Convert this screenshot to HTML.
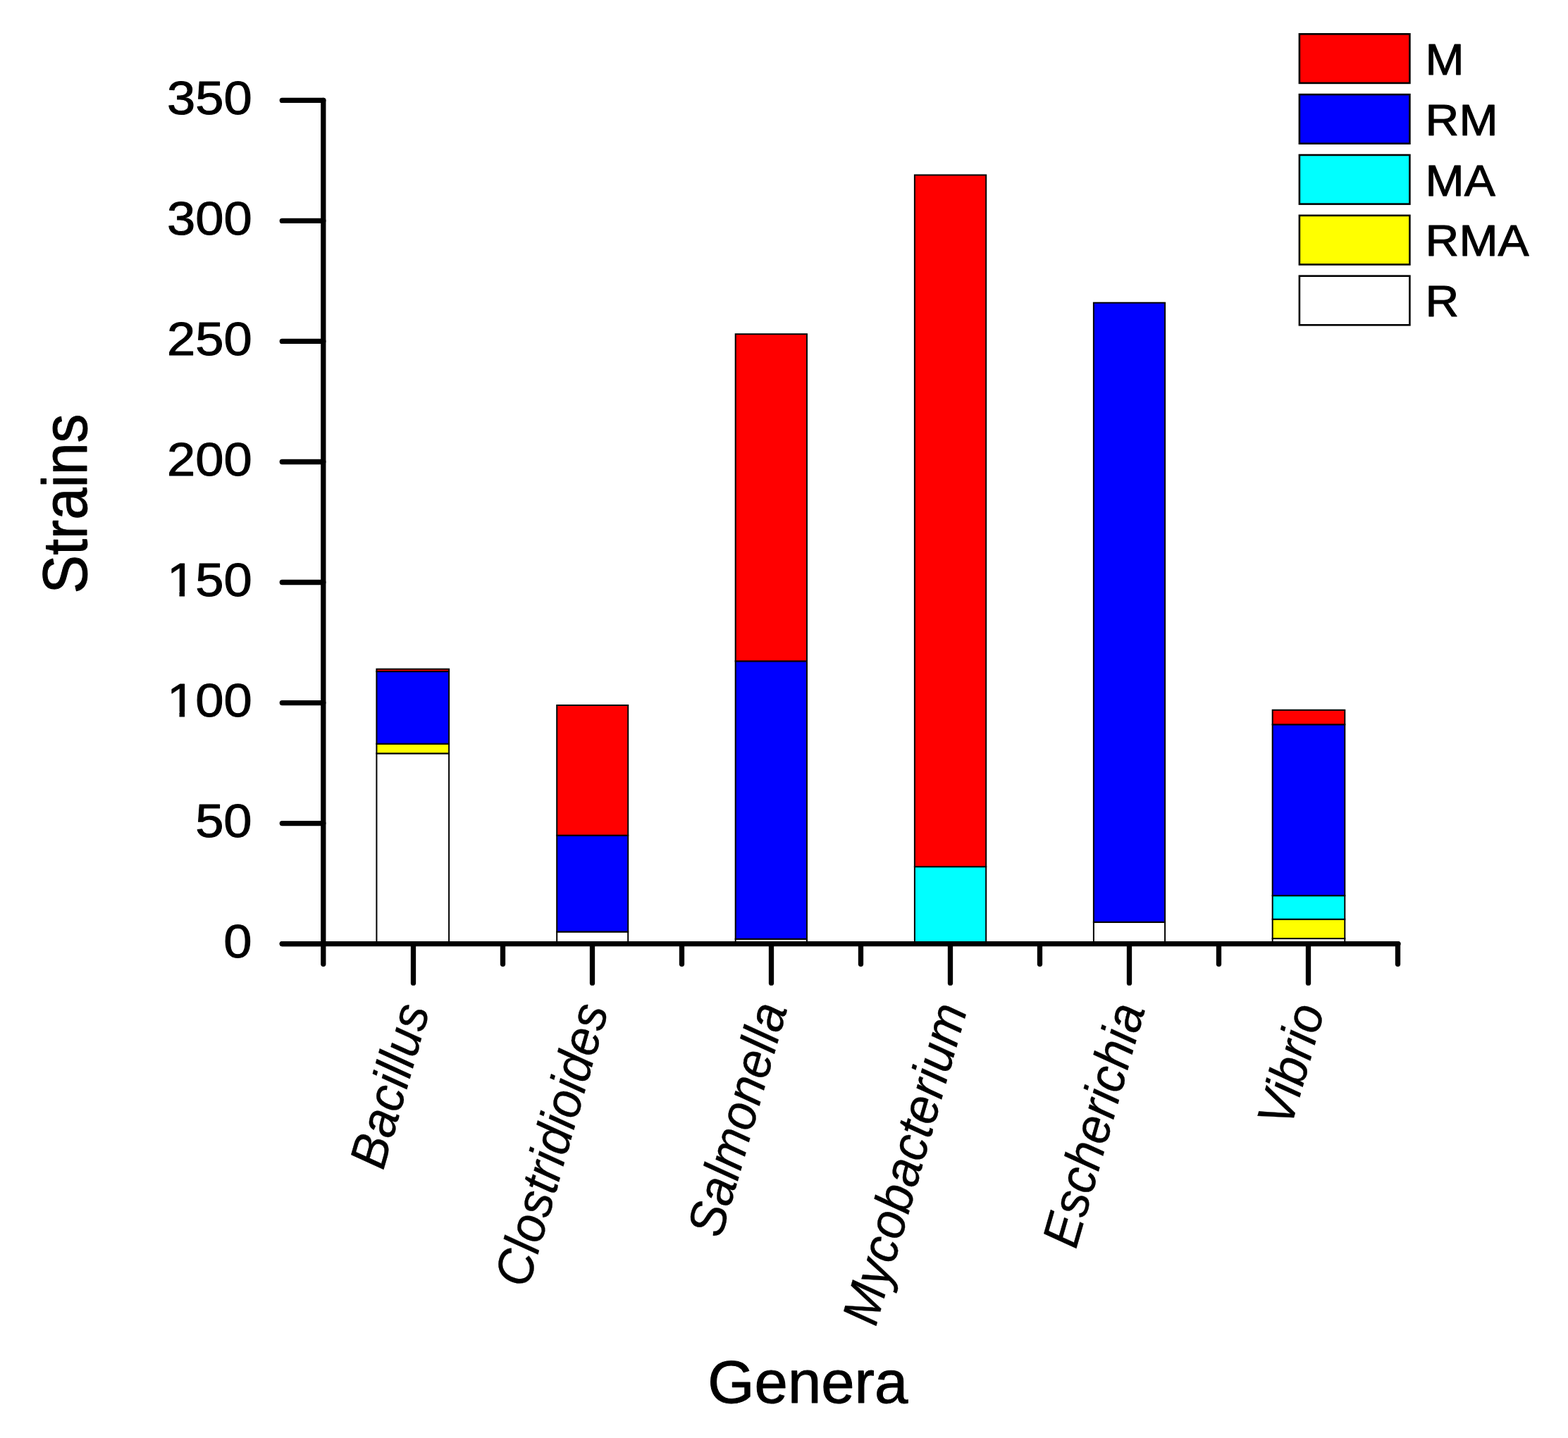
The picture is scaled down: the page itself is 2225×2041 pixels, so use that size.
<!DOCTYPE html>
<html lang="en"><head><meta charset="utf-8"><title>Strains per genus</title>
<style>
html,body{margin:0;padding:0;background:#fff;}
body{width:2225px;height:2041px;overflow:hidden;}
svg{display:block;}
text{font-family:"Liberation Sans",sans-serif;fill:#000;}
.bold text,text.bold{stroke:#000;stroke-width:1px;stroke-linejoin:round;}
.xlabels text{stroke:#000;stroke-width:0.5px;stroke-linejoin:round;}
.ax{stroke:#000;stroke-width:7.3;stroke-linecap:round;stroke-linejoin:round;fill:none;}
.bar{stroke:#000;stroke-width:2.0;stroke-linejoin:miter;}
.lg{stroke:#000;stroke-width:2.6;}
</style></head><body>
<svg width="2225" height="2041" viewBox="0 0 2225 2041" role="img" aria-label="Stacked bar chart of strains per genus">
<rect x="0" y="0" width="2225" height="2041" fill="#fff"/>
<g class="bars">
<rect class="bar" x="534.40" y="1069.37" width="102.70" height="270.23" fill="#ffffff"/>
<rect class="bar" x="534.40" y="1055.69" width="102.70" height="13.68" fill="#ffff00"/>
<rect class="bar" x="534.40" y="953.07" width="102.70" height="102.62" fill="#0000ff"/>
<rect class="bar" x="534.40" y="949.65" width="102.70" height="3.42" fill="#ff0000"/>
<rect class="bar" x="790.20" y="1322.50" width="101.00" height="17.10" fill="#ffffff"/>
<rect class="bar" x="790.20" y="1185.67" width="101.00" height="136.82" fill="#0000ff"/>
<rect class="bar" x="790.20" y="1000.96" width="101.00" height="184.71" fill="#ff0000"/>
<rect class="bar" x="1043.70" y="1332.76" width="101.30" height="6.84" fill="#ffffff"/>
<rect class="bar" x="1043.70" y="938.36" width="101.30" height="394.40" fill="#0000ff"/>
<rect class="bar" x="1043.70" y="474.19" width="101.30" height="464.18" fill="#ff0000"/>
<rect class="bar" x="1297.90" y="1230.14" width="101.30" height="109.46" fill="#00ffff"/>
<rect class="bar" x="1297.90" y="248.43" width="101.30" height="981.71" fill="#ff0000"/>
<rect class="bar" x="1551.90" y="1308.81" width="101.20" height="30.79" fill="#ffffff"/>
<rect class="bar" x="1551.90" y="429.72" width="101.20" height="879.09" fill="#0000ff"/>
<rect class="bar" x="1805.70" y="1332.07" width="102.60" height="7.53" fill="#ffffff"/>
<rect class="bar" x="1805.70" y="1304.71" width="102.60" height="27.36" fill="#ffff00"/>
<rect class="bar" x="1805.70" y="1271.19" width="102.60" height="33.52" fill="#00ffff"/>
<rect class="bar" x="1805.70" y="1028.33" width="102.60" height="242.86" fill="#0000ff"/>
<rect class="bar" x="1805.70" y="1007.80" width="102.60" height="20.52" fill="#ff0000"/>
</g>
<g class="axes">
<path class="ax" d="M458.80 142.39 V1368.30"/>
<path class="ax" d="M400.30 1339.60 H1984.00"/>
<path class="ax" d="M400.30 1339.60 H458.80"/>
<path class="ax" d="M400.30 1168.57 H458.80"/>
<path class="ax" d="M400.30 997.54 H458.80"/>
<path class="ax" d="M400.30 826.51 H458.80"/>
<path class="ax" d="M400.30 655.48 H458.80"/>
<path class="ax" d="M400.30 484.45 H458.80"/>
<path class="ax" d="M400.30 313.42 H458.80"/>
<path class="ax" d="M400.30 142.39 H458.80"/>
<path class="ax" d="M586.50 1339.60 V1395.20"/>
<path class="ax" d="M840.50 1339.60 V1395.20"/>
<path class="ax" d="M1094.50 1339.60 V1395.20"/>
<path class="ax" d="M1348.50 1339.60 V1395.20"/>
<path class="ax" d="M1602.50 1339.60 V1395.20"/>
<path class="ax" d="M1856.50 1339.60 V1395.20"/>
<path class="ax" d="M713.50 1339.60 V1368.30"/>
<path class="ax" d="M967.50 1339.60 V1368.30"/>
<path class="ax" d="M1221.50 1339.60 V1368.30"/>
<path class="ax" d="M1475.50 1339.60 V1368.30"/>
<path class="ax" d="M1729.50 1339.60 V1368.30"/>
<path class="ax" d="M1983.50 1339.60 V1368.30"/>
</g>
<defs><clipPath id="nofoot" clipPathUnits="userSpaceOnUse"><path clip-rule="evenodd" d="M-300 -120H60V60H-300Z M-107.07 -6.95H-94.45V2.00H-107.07Z M-87.59 -6.95H-75.48V2.00H-87.59Z"/></clipPath></defs>
<g class="ylabels bold" font-size="66.3" text-anchor="end">
<text transform="translate(357.60 1359.00) scale(1.091 1)">0</text>
<text transform="translate(357.60 1187.97) scale(1.091 1)">50</text>
<text transform="translate(357.60 1016.94) scale(1.091 1)" clip-path="url(#nofoot)">100</text>
<text transform="translate(357.60 845.91) scale(1.091 1)" clip-path="url(#nofoot)">150</text>
<text transform="translate(357.60 674.88) scale(1.091 1)">200</text>
<text transform="translate(357.60 503.85) scale(1.091 1)">250</text>
<text transform="translate(357.60 332.82) scale(1.091 1)">300</text>
<text transform="translate(357.60 161.79) scale(1.091 1)">350</text>
</g>
<text class="bold" transform="translate(122.95 715.00) rotate(-90) scale(0.92 1)" font-size="89.0" text-anchor="middle">Strains</text>
<text class="bold" transform="translate(1146.30 1991.25) scale(1.0076 1)" font-size="84.5" text-anchor="middle">Genera</text>
<g class="xlabels" font-size="100" font-style="italic" text-anchor="end">
<text transform="translate(610.00 1432.30) matrix(0.19202 -0.66662 0.70721 0.17714 0 0)">Bacillus</text>
<text transform="translate(863.80 1431.80) matrix(0.19077 -0.66229 0.70721 0.17714 0 0)">Clostridioides</text>
<text transform="translate(1117.50 1430.70) matrix(0.19087 -0.66262 0.70721 0.17714 0 0)">Salmonella</text>
<text transform="translate(1373.05 1431.95) matrix(0.19202 -0.66662 0.70721 0.17714 0 0)">Mycobacterium</text>
<text transform="translate(1625.30 1431.70) matrix(0.19077 -0.66229 0.70721 0.17714 0 0)">Escherichia</text>
<text transform="translate(1880.30 1432.50) matrix(0.19202 -0.66662 0.70721 0.17714 0 0)">Vibrio</text>
</g>
<g class="legend bold" font-size="63.6">
<rect class="lg" x="1843.90" y="48.30" width="156.50" height="69.60" fill="#ff0000"/>
<text transform="translate(2022.60 105.75) scale(1.041 1)">M</text>
<rect class="lg" x="1843.90" y="134.15" width="156.50" height="69.60" fill="#0000ff"/>
<text transform="translate(2022.60 191.65) scale(1.041 1)">RM</text>
<rect class="lg" x="1843.90" y="220.00" width="156.50" height="69.60" fill="#00ffff"/>
<text transform="translate(2022.60 277.55) scale(1.041 1)">MA</text>
<rect class="lg" x="1843.90" y="305.85" width="156.50" height="69.60" fill="#ffff00"/>
<text transform="translate(2022.60 363.45) scale(1.041 1)">RMA</text>
<rect class="lg" x="1843.90" y="391.70" width="156.50" height="69.60" fill="#ffffff"/>
<text transform="translate(2022.60 449.35) scale(1.041 1)">R</text>
</g>
</svg>
</body></html>
